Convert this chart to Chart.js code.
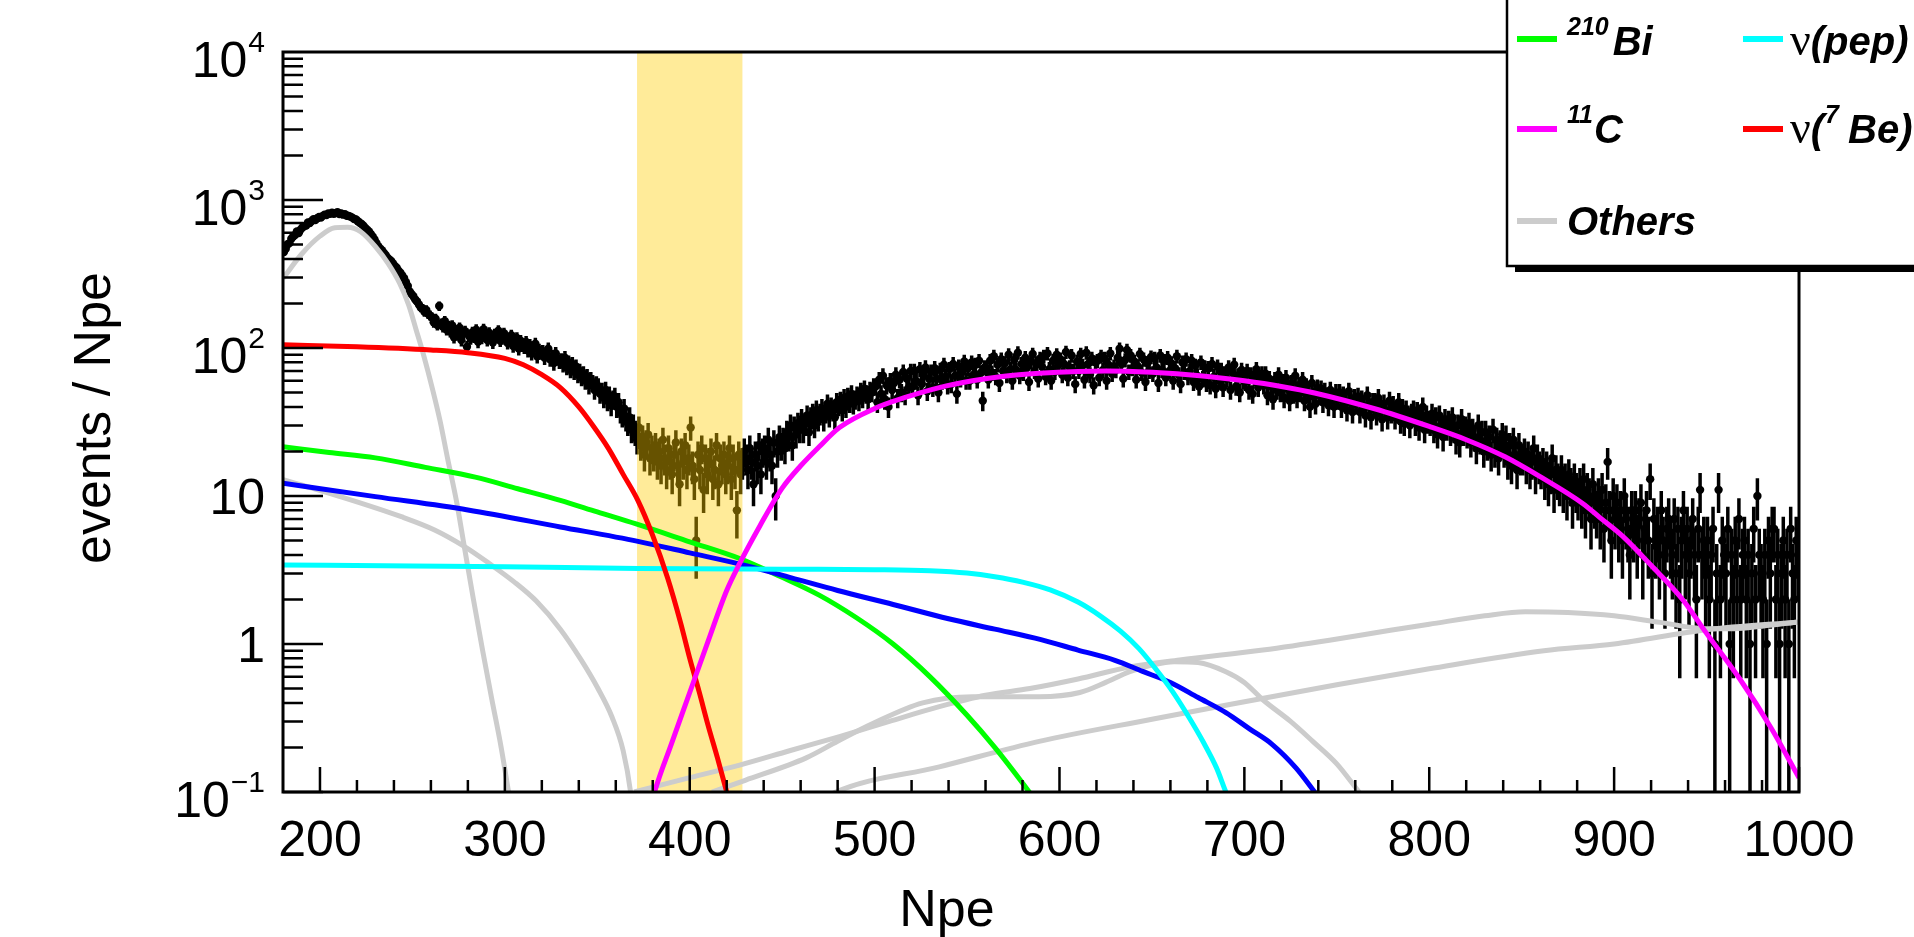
<!DOCTYPE html>
<html>
<head>
<meta charset="utf-8">
<style>
html,body{margin:0;padding:0;background:#ffffff;overflow:hidden}
canvas{display:block}
</style>
<script src="https://cdn.jsdelivr.net/npm/chart.js@4.4.1/dist/chart.umd.min.js"></script>
</head>
<body>
<canvas id="c" width="1914" height="937"></canvas>
<script>
// ---------------- axis definition ----------------
const xMin = 180, xMax = 1000;
const yMin = 0.1, yMax = 10000;
const xTickValues = [200, 300, 400, 500, 600, 700, 800, 900, 1000];
const xTickLabels = ["200", "300", "400", "500", "600", "700", "800", "900", "1000"];
const yTickValues = [0.1, 1, 10, 100, 1000, 10000];
const yTickBase = ["10", "1", "10", "10", "10", "10"];
const yTickExp = ["\u22121", "", "", "2", "3", "4"];
const xTitle = "Npe";
const yTitle = "events / Npe";

// ---------------- measured histogram (counts per 1-Npe bin, first bin starts at 180) ----------------
const binStart = 180, binWidth = 1;
const counts = [
445,468,502,511,548,566,580,612,598,631,
652,668,671,705,698,722,741,733,752,768,
762,781,795,790,812,806,821,808,817,826,
805,812,796,801,783,779,772,760,744,738,
718,702,688,671,648,631,612,590,566,541,
512,488,470,458,441,425,408,396,388,372,
358,349,333,322,309,296,278,262,241,232,
224,213,206,197,188,185,176,181,170,166,
161,149,158,143,192,146,139,152,133,141,
129,142,118,131,124,137,113,126,130,102,
121,116,128,119,133,110,125,117,134,122,
113,127,118,109,124,121,131,112,116,126,
119,108,114,122,103,111,117,99,112,104,
101,110,96,105,92,99,107,88,97,93,
95,86,91,99,84,88,79,92,85,81,
83,77,86,74,80,71,78,69,75,66,
70,63,67,60,64,56,61,58,52,57,
55,49,51,46,52,44,48,41,45,47,
40,43,37,35,39,33,31,34,28,30,
27,24,29,22,25,19,23,26,18,21,
19,22,17,20,16,24,18,15,21,17,
14,19,23,16,12,20,17,22,15,18,
29,16,13,5,19,15,21,11,18,14,
17,20,13,15,22,12,18,16,19,14,
16,21,13,18,15,8,19,14,17,20,
18,15,21,17,12,19,16,22,14,20,
21,17,24,19,16,23,10,20,25,22,
24,21,27,25,30,22,29,26,31,28,
33,28,31,35,27,34,36,30,38,33,
36,39,33,37,42,35,40,38,34,43,
41,44,38,46,40,47,43,49,42,45,
48,44,51,46,53,49,45,52,50,55,
55,43,61,49,65,45,56,40,60,52,
58,66,46,61,50,69,48,62,54,70,
55,70,60,48,72,57,65,74,51,62,
69,54,73,62,50,71,60,77,64,56,
72,57,78,65,49,75,62,69,81,60,
73,60,80,66,77,61,82,68,44,74,
73,61,82,68,88,64,77,58,84,70,
79,66,90,72,60,83,71,93,65,78,
68,86,74,59,81,91,70,79,62,85,
75,88,64,92,72,60,82,69,90,77,
84,66,78,94,63,74,89,70,57,81,
70,91,76,61,93,78,66,85,56,80,
82,63,88,71,85,60,77,92,67,75,
71,86,99,78,62,83,97,69,89,73,
81,61,75,91,68,84,59,79,70,87,
67,85,74,58,89,71,82,63,86,70,
79,60,73,88,66,57,80,69,84,64,
70,82,59,76,65,55,80,62,74,58,
73,56,78,64,53,75,60,71,54,67,
62,74,52,68,77,55,65,50,71,60,
59,70,52,66,49,63,72,54,62,67,
56,67,48,62,55,45,61,52,66,50,
59,46,63,53,44,58,49,65,46,56,
50,61,44,55,49,40,58,47,42,54,
48,53,43,51,47,41,52,45,40,50,
45,50,40,48,44,38,51,43,37,46,
42,47,37,45,41,35,48,40,34,43,
43,36,46,39,33,42,38,34,44,37,
41,34,37,43,32,39,31,38,35,30,
36,38,31,37,29,34,40,28,35,32,
31,36,28,34,26,35,30,25,33,29,
32,27,34,28,24,30,23,33,27,29,
26,31,23,28,25,21,30,24,27,20,
27,22,25,19,28,20,24,18,23,26,
20,25,17,22,16,24,19,15,22,18,
18,20,16,19,15,17,21,14,18,16,
15,17,13,16,12,14,18,11,15,13,
12,15,11,13,10,14,12,9,13,11,
10,12,9,13,8,11,10,7,12,9,
8,10,7,11,6,9,17,8,5,10,
7,9,6,8,5,10,7,6,4,8,
6,8,5,7,9,4,6,8,5,13,
3,7,5,6,4,8,5,3,6,7,
5,4,7,3,6,2,5,8,4,6,
3,5,7,4,2,6,11,4,5,3,
5,2,4,6,1,3,11,2,5,4,
3,6,1,4,2,5,3,7,2,4,
5,2,4,1,3,6,2,10,4,3,
2,4,1,5,3,6,6,2,4,1,
3,5,2,4,1,6,3,2,5,4
];

// ---------------- fit components ----------------
const be7X = [180,220,260,280,300,310,320,330,340,348,356,364,372,380,388,395,400,405,410,415,420,425];
const be7Y = [105,102,97,93,85,77,66,54,40,29.5,21,14,9.3,5.4,2.8,1.4,0.8,0.48,0.28,0.17,0.1,0.06];

const bi210X = [180,205,230,257,284,307,330,350,371,400,427,449,470,490,510,530,550,565,580,590];
const bi210Y = [21.5,19.7,18.1,15.6,13.4,11.2,9.35,7.8,6.47,4.9,3.78,2.86,2.14,1.51,1.0,0.6,0.33,0.2,0.115,0.078];

const blueX = [180,230,280,330,372,400,430,455,480,510,540,565,590,610,630,645,660,675,690,703,715,728,738,746];
const blueY = [12.2,9.9,8.05,6.18,4.94,4.13,3.4,2.8,2.3,1.85,1.48,1.26,1.07,0.91,0.776,0.653,0.55,0.435,0.344,0.266,0.21,0.145,0.1,0.074];

const pepX = [180,250,300,372,450,500,530,550,565,580,595,610,622,633,643,652,661,670,678,685,690,696];
const pepY = [3.42,3.36,3.32,3.24,3.2,3.18,3.13,3.02,2.85,2.62,2.32,1.92,1.55,1.22,0.93,0.68,0.48,0.32,0.215,0.145,0.1,0.068];

const c11X = [378,381,390,400,410,420,427,438,450,460,470,481,500,517,535,553,570,589,610,625,650,676,700,720,738,770,800,820,841,860,883,892,905,920,937,950,968,985,1000];
const c11Y = [0.07,0.1,0.21,0.47,1.05,2.3,3.5,6.3,11.3,16,21.5,29,39,46.5,54,60,64.5,67.5,69.5,70,68.5,65,60,55,49.7,39,29.5,24,18.4,13.5,8.9,7.2,5.3,3.4,2.0,1.18,0.58,0.27,0.125];

const otherAX = [180,190,200,208,215,222,230,237,243,248,252,256,261,265,269,274,278,283,288,293,298,302,306];
const otherAY = [295,430,570,650,655,610,484,370,275,195,133,90,52,32,18,9,4.6,2.0,0.9,0.42,0.2,0.1,0.05];

const otherBX = [180,210,244,262,278,292,305,317,330,341,350,358,364,368,370];
const otherBY = [12.9,10.0,7.25,5.9,4.57,3.47,2.63,1.95,1.26,0.79,0.51,0.32,0.19,0.1,0.056];

const otherCX = [370,400,427,454,481,508,535,560,584,610,638,665,710,746,779,800,830,852,875,900,925,950,965,980,1000];
const otherCY = [0.1,0.125,0.152,0.19,0.237,0.3,0.377,0.45,0.50,0.58,0.70,0.78,0.91,1.06,1.24,1.36,1.55,1.65,1.63,1.55,1.4,1.27,1.27,1.32,1.41];

const otherDX = [412,430,463,480,499,526,553,575,589,611,625,638,650,662,675,690,700,710,725,737,750,762,770];
const otherDY = [0.1,0.12,0.17,0.22,0.29,0.40,0.44,0.44,0.44,0.47,0.55,0.65,0.72,0.76,0.75,0.65,0.55,0.42,0.3,0.22,0.155,0.1,0.075];

const otherEX = [470,479,535,589,650,692,750,800,862,900,950,1000];
const otherEY = [0.085,0.1,0.148,0.22,0.31,0.39,0.53,0.68,0.9,1.0,1.25,1.41];

// highlighted Npe window
const bandRange = [371.5, 428.5];

// ---------------- colours ----------------
const COL = {
  bi: '#00ff00', pep: '#00ffff', c11: '#ff00ff', be7: '#ff0000', blue: '#0000ff', other: '#cccccc',
  band: 'rgba(255,204,0,0.4)'
};

// ---------------- build datasets ----------------
function pts(xs, ys) { return xs.map((x, i) => ({ x: x, y: ys[i] })); }
function curve(xs, ys, color, order) {
  return {
    type: 'line', data: pts(xs, ys), borderColor: color, borderWidth: 5,
    pointRadius: 0, fill: false, cubicInterpolationMode: 'monotone', clip: 0, order: order
  };
}
const histPoints = [];
counts.forEach((c, i) => { if (c > 0) histPoints.push({ x: binStart + binWidth * (i + 0.5), y: c }); });

const datasets = [
  curve(c11X, c11Y, COL.c11, 1),
  curve(be7X, be7Y, COL.be7, 2),
  curve(pepX, pepY, COL.pep, 3),
  curve(blueX, blueY, COL.blue, 4),
  curve(bi210X, bi210Y, COL.bi, 5),
  curve(otherAX, otherAY, COL.other, 6),
  curve(otherBX, otherBY, COL.other, 6),
  curve(otherCX, otherCY, COL.other, 6),
  curve(otherDX, otherDY, COL.other, 6),
  curve(otherEX, otherEY, COL.other, 6),
  {
    type: 'scatter', data: histPoints, isData: true, showLine: false,
    pointRadius: 4.2, pointBackgroundColor: '#000', pointBorderWidth: 0, pointBorderColor: '#000',
    clip: 0, order: 20
  }
];

const FONT = '"Liberation Sans", Arial, Helvetica, sans-serif';

function drawSegments(ctx, segs, x, base) {
  let cx = x;
  segs.forEach(s => {
    cx += (s.gap || 0);
    ctx.font = s.font;
    ctx.fillText(s.t, cx, base + (s.dy || 0));
    cx += ctx.measureText(s.t).width;
  });
}

const rootStyle = {
  id: 'rootStyle',
  beforeDatasetDraw(chart, args) {
    const ds = chart.data.datasets[args.index];
    if (!ds.isData) return;
    const { ctx, chartArea: a, scales: { x, y } } = chart;
    ctx.save();
    ctx.beginPath(); ctx.rect(a.left, a.top, a.right - a.left, a.bottom - a.top); ctx.clip();
    ctx.strokeStyle = '#000'; ctx.lineWidth = 3.5; ctx.lineCap = 'butt';
    ctx.beginPath();
    ds.data.forEach(p => {
      const e = Math.sqrt(p.y);
      const px = x.getPixelForValue(p.x);
      const top = y.getPixelForValue(p.y + e);
      const lo = p.y - e;
      const bot = lo > 0 ? y.getPixelForValue(lo) : a.bottom + 10;
      ctx.moveTo(px, top); ctx.lineTo(px, bot);
    });
    ctx.stroke();
    ctx.restore();
  },
  afterDatasetDraw(chart, args) {
    const ds = chart.data.datasets[args.index];
    if (!ds.isData) return;
    const { ctx, chartArea: a, scales: { x } } = chart;
    const x0 = x.getPixelForValue(bandRange[0]), x1 = x.getPixelForValue(bandRange[1]);
    ctx.save();
    ctx.fillStyle = COL.band;
    ctx.fillRect(x0, a.top, x1 - x0, a.bottom - a.top);
    ctx.restore();
  },
  afterDraw(chart) {
    const { ctx, chartArea: a, scales: { x, y } } = chart;
    ctx.save();
    // frame
    ctx.strokeStyle = '#000'; ctx.lineWidth = 3;
    ctx.strokeRect(a.left, a.top, a.right - a.left, a.bottom - a.top);
    // x ticks
    ctx.lineWidth = 2.5;
    ctx.beginPath();
    for (let v = 200; v <= xMax; v += 20) {
      const px = x.getPixelForValue(v);
      const len = (v % 100 === 0) ? 25 : 12;
      ctx.moveTo(px, a.bottom); ctx.lineTo(px, a.bottom - len);
    }
    // y ticks
    for (let e = -1; e <= 3; e++) {
      for (let m = 1; m <= 9; m++) {
        const v = m * Math.pow(10, e);
        const py = y.getPixelForValue(v);
        const len = (m === 1) ? 40 : 20;
        ctx.moveTo(a.left, py); ctx.lineTo(a.left + len, py);
      }
    }
    ctx.stroke();
    // x labels
    ctx.fillStyle = '#000';
    ctx.font = '50px ' + FONT;
    ctx.textAlign = 'center'; ctx.textBaseline = 'alphabetic';
    xTickValues.forEach((v, i) => {
      ctx.fillText(xTickLabels[i], x.getPixelForValue(v), a.bottom + 64);
    });
    // y labels
    const rx = a.left - 18;
    ctx.textAlign = 'right';
    yTickValues.forEach((v, i) => {
      const py = y.getPixelForValue(v);
      if (yTickExp[i]) {
        ctx.font = '30px ' + FONT;
        const w = ctx.measureText(yTickExp[i]).width;
        ctx.fillText(yTickExp[i], rx, py);
        ctx.font = '50px ' + FONT;
        ctx.fillText(yTickBase[i], rx - w - 1, py + 25);
      } else {
        ctx.font = '50px ' + FONT;
        ctx.fillText(yTickBase[i], rx, py + 18);
      }
    });
    // titles
    ctx.font = '52px ' + FONT;
    ctx.textAlign = 'center';
    ctx.fillText(xTitle, 947, 926);
    ctx.save();
    ctx.translate(110, 418);
    ctx.rotate(-Math.PI / 2);
    ctx.fillText(yTitle, 0, 0);
    ctx.restore();

    // legend box (partly outside the canvas on the right)
    ctx.fillStyle = '#000';
    ctx.fillRect(1515, 258, 420, 14);
    ctx.fillStyle = '#fff';
    ctx.fillRect(1507, -5, 430, 271);
    ctx.strokeStyle = '#000'; ctx.lineWidth = 2.5;
    ctx.beginPath(); ctx.moveTo(1507, -5); ctx.lineTo(1507, 266); ctx.lineTo(1940, 266); ctx.stroke();

    const main = 'italic bold 40px ' + FONT;
    const sup = 'italic bold 25px ' + FONT;
    const greek = '46px "Liberation Serif", "DejaVu Serif", serif';
    const rows = [
      { lineY: 39, base: 55 },
      { lineY: 129, base: 143 },
      { lineY: 221, base: 235 }
    ];
    const entries = [
      { col: 0, row: 0, color: COL.bi, segs: [{ t: '210', font: sup, dy: -20 }, { t: 'Bi', font: main, gap: 4 }] },
      { col: 1, row: 0, color: COL.pep, segs: [{ t: '\u03bd', font: greek }, { t: '(pep)', font: main }] },
      { col: 0, row: 1, color: COL.c11, segs: [{ t: '11', font: sup, dy: -20 }, { t: 'C', font: main, gap: 1 }] },
      { col: 1, row: 1, color: COL.be7, segs: [{ t: '\u03bd', font: greek }, { t: '(', font: main }, { t: '7', font: sup, dy: -20, gap: 1 }, { t: 'Be)', font: main, gap: 9 }] },
      { col: 0, row: 2, color: COL.other, segs: [{ t: 'Others', font: main }] }
    ];
    const cols = [{ l0: 1517, l1: 1557, tx: 1567 }, { l0: 1743, l1: 1783, tx: 1790 }];
    ctx.textAlign = 'left'; ctx.textBaseline = 'alphabetic';
    entries.forEach(en => {
      const c = cols[en.col], r = rows[en.row];
      ctx.strokeStyle = en.color; ctx.lineWidth = 6;
      ctx.beginPath(); ctx.moveTo(c.l0, r.lineY); ctx.lineTo(c.l1, r.lineY); ctx.stroke();
      ctx.fillStyle = '#000';
      drawSegments(ctx, en.segs, c.tx, r.base);
    });
    ctx.restore();
  }
};

new Chart(document.getElementById('c'), {
  type: 'scatter',
  data: { datasets: datasets },
  options: {
    responsive: false,
    animation: false,
    devicePixelRatio: 1,
    events: [],
    layout: { padding: { left: 283, right: 115, top: 52, bottom: 145 } },
    scales: {
      x: { type: 'linear', min: xMin, max: xMax, display: false },
      y: { type: 'logarithmic', min: yMin, max: yMax, display: false }
    },
    plugins: { legend: { display: false }, tooltip: { enabled: false } }
  },
  plugins: [rootStyle]
});
</script>
</body>
</html>
